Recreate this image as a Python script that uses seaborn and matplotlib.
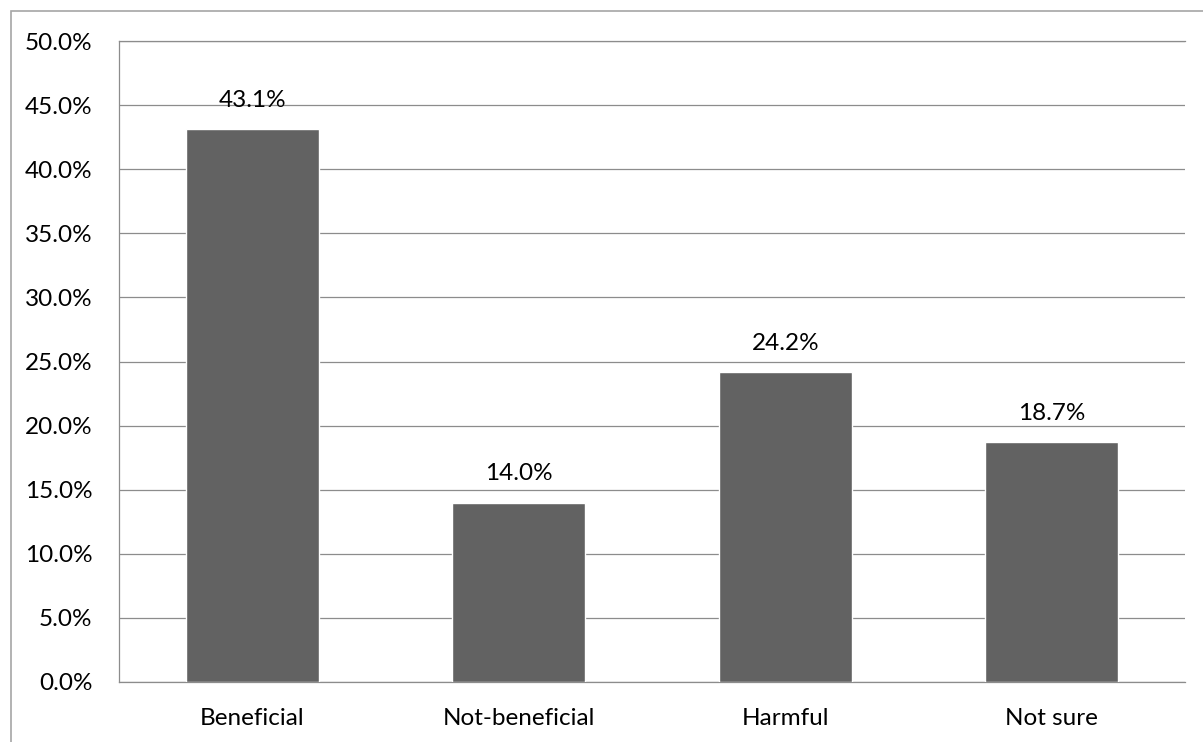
import matplotlib
matplotlib.use("Agg")
import matplotlib.pyplot as plt
import matplotlib.patches as mpatches
from matplotlib.ticker import FuncFormatter, MultipleLocator
import seaborn as sns
import pandas as pd

categories = ["Beneficial", "Not-beneficial", "Harmful", "Not sure"]
shares = [43.1, 14.0, 24.2, 18.7]
label_texts = ["43.1%", "14.0%", "24.2%", "18.7%"]

sns.set_theme(style="white")
plt.rcParams["font.family"] = ["Lato", "DejaVu Sans"]

df = pd.DataFrame({"category": categories, "share": shares})

fig = plt.figure(figsize=(12.03, 7.42), dpi=100)
ax = fig.add_axes([119 / 1203, 1 - 682 / 742, (1185 - 119) / 1203, (682 - 41) / 742])

sns.barplot(data=df, x="category", y="share", color="#626262", width=0.5,
            saturation=1, ax=ax, zorder=3)

grid_col = "#8c8c8c"
ax.set_ylim(0, 50)
ax.set_xlim(-0.5, len(categories) - 0.5)
ax.yaxis.set_major_locator(MultipleLocator(5))
ax.yaxis.set_major_formatter(FuncFormatter(lambda v, p: f"{v:.1f}%"))
ax.grid(axis="y", color=grid_col, linewidth=0.9, zorder=0)
ax.set_axisbelow(True)

for side in ["top", "left", "bottom"]:
    ax.spines[side].set_visible(True)
    ax.spines[side].set_color(grid_col)
    ax.spines[side].set_linewidth(0.9)
ax.spines["right"].set_visible(False)

ax.set_xlabel("")
ax.set_ylabel("")
ax.tick_params(axis="both", length=0, labelsize=17.5, colors="black")
ax.tick_params(axis="y", pad=19)
ax.tick_params(axis="x", pad=19)

for i, (v, t) in enumerate(zip(shares, label_texts)):
    ax.annotate(t, xy=(i, v), xytext=(0, 13), textcoords="offset points",
                ha="center", va="bottom", fontsize=17.5, color="black")

# outer chart frame
fig.patches.append(mpatches.Rectangle((11 / 1203, -0.1), 1.2, 1 - 11 / 742 + 0.1,
                                      transform=fig.transFigure, fill=False,
                                      edgecolor="#a6a6a6", linewidth=1.2))

fig.savefig("out.png", dpi=100)
